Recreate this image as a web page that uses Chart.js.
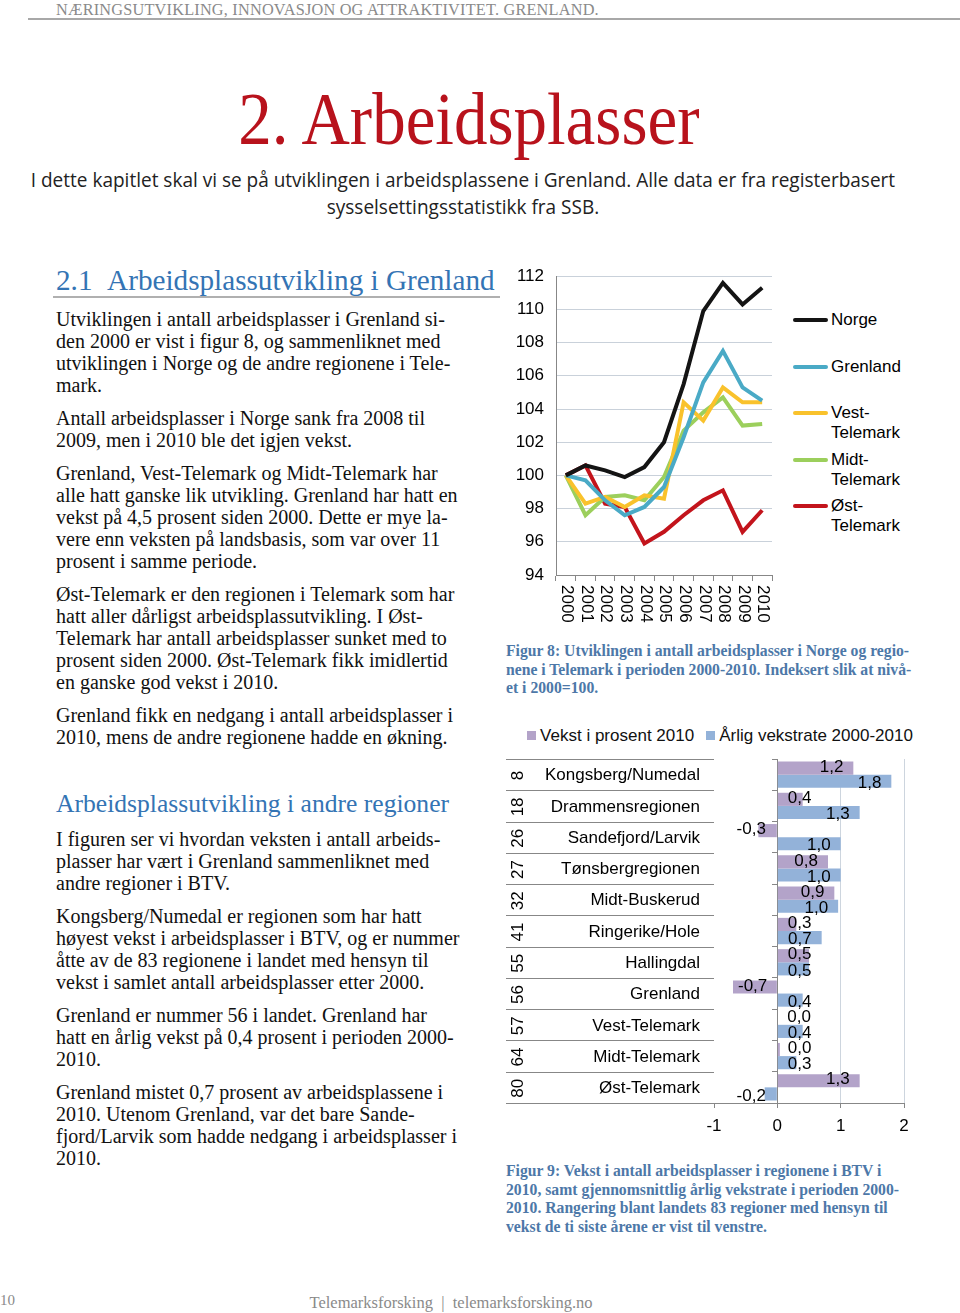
<!DOCTYPE html>
<html>
<head>
<meta charset="utf-8">
<script src="https://cdn.jsdelivr.net/npm/chart.js@4.4.1/dist/chart.umd.min.js"></script>
<style>
  body { margin: 0; width: 960px; height: 1313px; position: relative; overflow: hidden; background: #fff; font-family: "Liberation Serif", serif; color: #111; }
  .abs { position: absolute; white-space: nowrap; }
  .body-text { font-size: 20px; line-height: 22px; }
  .body-text p { margin: 0 0 11px 0; }
  .blue-head { color: #3474b4; }
  .caption { font-size: 15.7px; line-height: 18.7px; font-weight: bold; color: #4d78a8; }
  .sans { font-family: "Liberation Sans", Arial, sans-serif; }
  canvas { position: absolute; }
</style>
</head>
<body>

<div class="abs" style="left:56px; top:0px; font-size:16.3px; color:#8a8a8a; letter-spacing:0.2px;">NÆRINGSUTVIKLING, INNOVASJON OG ATTRAKTIVITET. GRENLAND.</div>
<div class="abs" style="left:28px; top:18px; width:932px; height:2px; background:#a8a8a8;"></div>

<div class="abs" style="left:0; top:77px; width:938px; text-align:center;">
  <span style="display:inline-block; font-size:74px; color:#b8121c; transform:scaleX(0.905);">2. Arbeidsplasser</span>
</div>

<div class="abs" style="left:0; top:166px; width:926px; text-align:center; font-family:'Open Sans', sans-serif; font-size:20px; line-height:27px; color:#222;">
  <span style="display:inline-block; transform:scaleX(0.95); transform-origin:center;">I dette kapitlet skal vi se på utviklingen i arbeidsplassene i Grenland. Alle data er fra registerbasert<br>sysselsettingsstatistikk fra SSB.</span>
</div>

<div class="abs blue-head" style="left:56px; top:264px; font-size:29.2px;">2.1&nbsp;&nbsp;Arbeidsplassutvikling i Grenland</div>
<div class="abs" style="left:53px; top:296px; width:447px; height:2px; background:#b0b0b0;"></div>

<div class="abs body-text" style="left:56px; top:308px;">
  <p>Utviklingen i antall arbeidsplasser i Grenland si-<br>den 2000 er vist i figur 8, og sammenliknet med<br>utviklingen i Norge og de andre regionene i Tele-<br>mark.</p>
  <p>Antall arbeidsplasser i Norge sank fra 2008 til<br>2009, men i 2010 ble det igjen vekst.</p>
  <p>Grenland, Vest-Telemark og Midt-Telemark har<br>alle hatt ganske lik utvikling. Grenland har hatt en<br>vekst på 4,5 prosent siden 2000. Dette er mye la-<br>vere enn veksten på landsbasis, som var over 11<br>prosent i samme periode.</p>
  <p>Øst-Telemark er den regionen i Telemark som har<br>hatt aller dårligst arbeidsplassutvikling. I Øst-<br>Telemark har antall arbeidsplasser sunket med to<br>prosent siden 2000. Øst-Telemark fikk imidlertid<br>en ganske god vekst i 2010.</p>
  <p>Grenland fikk en nedgang i antall arbeidsplasser i<br>2010, mens de andre regionene hadde en økning.</p>
</div>

<div class="abs blue-head" style="left:56px; top:789px; font-size:25.6px;">Arbeidsplassutvikling i andre regioner</div>

<div class="abs body-text" style="left:56px; top:828px;">
  <p>I figuren ser vi hvordan veksten i antall arbeids-<br>plasser har vært i Grenland sammenliknet med<br>andre regioner i BTV.</p>
  <p>Kongsberg/Numedal er regionen som har hatt<br>høyest vekst i arbeidsplasser i BTV, og er nummer<br>åtte av de 83 regionene i landet med hensyn til<br>vekst i samlet antall arbeidsplasser etter 2000.</p>
  <p>Grenland er nummer 56 i landet. Grenland har<br>hatt en årlig vekst på 0,4 prosent i perioden 2000-<br>2010.</p>
  <p>Grenland mistet 0,7 prosent av arbeidsplassene i<br>2010. Utenom Grenland, var det bare Sande-<br>fjord/Larvik som hadde nedgang i arbeidsplasser i<br>2010.</p>
</div>

<canvas id="lineChart" width="280" height="378" style="left:500px; top:254px;"></canvas>
<div id="lineLegend"></div>

<div class="abs caption" style="left:506px; top:642px;">Figur 8: Utviklingen i antall arbeidsplasser i Norge og regio-<br>nene i Telemark i perioden 2000-2010. Indeksert slik at nivå-<br>et i 2000=100.</div>

<div id="barLegend" class="abs sans" style="left:500px; top:726px; width:440px; text-align:center; font-size:17px; line-height:20px;"></div>
<canvas id="barChart" width="420" height="395" style="left:500px; top:750px;"></canvas>

<div class="abs caption" style="left:506px; top:1162px;">Figur 9: Vekst i antall arbeidsplasser i regionene i BTV i<br>2010, samt gjennomsnittlig årlig vekstrate i perioden 2000-<br>2010. Rangering blant landets 83 regioner med hensyn til<br>vekst de ti siste årene er vist til venstre.</div>

<div class="abs" style="left:0px; top:1292px; font-size:15px; color:#8a8a8a;">10</div>
<div class="abs" style="left:0; top:1293px; width:902px; text-align:center; font-size:16.5px; color:#8a8a8a;">Telemarksforsking&nbsp;&nbsp;|&nbsp;&nbsp;telemarksforsking.no</div>

<script>
// Figur 8: indeks, 2000 = 100
const years = ['2000', '2001', '2002', '2003', '2004', '2005', '2006', '2007', '2008', '2009', '2010'];
const norge        = [100, 100.6, 100.3, 99.9, 100.5, 102.0, 105.5, 109.9, 111.6, 110.3, 111.3];
const grenland     = [100, 99.7, 98.5, 97.6, 98.1, 99.3, 102.3, 105.6, 107.5, 105.3, 104.5];
const vestTelemark = [100, 98.3, 98.7, 98.1, 98.8, 98.6, 104.4, 103.3, 105.3, 104.4, 104.4];
const midtTelemark = [100, 97.6, 98.7, 98.8, 98.5, 99.9, 102.7, 103.8, 104.7, 103.0, 103.1];
const ostTelemark  = [100, 100.6, 98.3, 98.1, 95.9, 96.6, 97.6, 98.5, 99.1, 96.6, 97.9];
const lineNames  = ['Norge', 'Grenland', 'Vest-Telemark', 'Midt-Telemark', 'Øst-Telemark'];
const lineValues = [norge, grenland, vestTelemark, midtTelemark, ostTelemark];
const lineColors = ['#141414', '#4aaac6', '#f9c22c', '#9ccf5c', '#c3141c'];
const indexMin = 94, indexMax = 112, indexStep = 2;

// Figur 9: vekst i regionene i BTV
const regions = ['Kongsberg/Numedal', 'Drammensregionen', 'Sandefjord/Larvik', 'Tønsbergregionen', 'Midt-Buskerud',
  'Ringerike/Hole', 'Hallingdal', 'Grenland', 'Vest-Telemark', 'Midt-Telemark', 'Øst-Telemark'];
const ranks = ['8', '18', '26', '27', '32', '41', '55', '56', '57', '64', '80'];
const vekst2010   = [1.2, 0.4, -0.3, 0.8, 0.9, 0.3, 0.5, -0.7, 0.0, 0.04, 1.3];
const aarligVekst = [1.8, 1.3, 1.0, 1.0, 0.96, 0.7, 0.5, 0.4, 0.4, 0.3, -0.2];
const barNames  = ['Vekst i prosent 2010', 'Årlig vekstrate 2000-2010'];
const barColors = ['#b3a3c9', '#93b2d9'];
const growthMin = -1, growthMax = 2;

const SANS = '"Liberation Sans", Arial, sans-serif';
const gridGrey = '#c9d1da';
const axisGrey = '#878787';

// ---------- line chart ----------
const rotatedYears = {
  id: 'rotatedYears',
  afterDraw(chart) {
    const xs = chart.scales.x;
    const ctx = chart.ctx;
    ctx.save();
    ctx.font = '17px ' + SANS;
    ctx.fillStyle = '#000';
    ctx.textAlign = 'left';
    ctx.textBaseline = 'middle';
    years.forEach((y, i) => {
      ctx.save();
      ctx.translate(xs.getPixelForValue(i) + 1, xs.top + 10);
      ctx.rotate(Math.PI / 2);
      ctx.fillText(y, 0, 0);
      ctx.restore();
    });
    ctx.restore();
  }
};

new Chart(document.getElementById('lineChart'), {
  type: 'line',
  data: {
    labels: years,
    datasets: lineNames.map((name, i) => ({
      label: name,
      data: lineValues[i],
      borderColor: lineColors[i],
      backgroundColor: lineColors[i],
      borderWidth: 4,
      pointRadius: 0,
      tension: 0,
      fill: false
    }))
  },
  options: {
    responsive: false,
    animation: false,
    events: [],
    layout: { padding: { left: 4, right: 8, top: 13, bottom: 0 } },
    plugins: { legend: { display: false }, tooltip: { enabled: false } },
    scales: {
      x: {
        offset: true,
        grid: { drawOnChartArea: false, offset: true, color: axisGrey, tickLength: 6 },
        border: { color: axisGrey },
        ticks: { display: false },
        afterFit(s) { s.height = 57; }
      },
      y: {
        min: indexMin,
        max: indexMax,
        ticks: { stepSize: indexStep, font: { family: SANS, size: 17 }, color: '#000', padding: 12 },
        grid: { color: gridGrey, drawTicks: false },
        border: { color: axisGrey },
        afterFit(s) { s.width = 52; }
      }
    }
  },
  plugins: [rotatedYears]
});

// legend for line chart
const lineLegend = document.getElementById('lineLegend');
lineNames.forEach((name, i) => {
  const item = document.createElement('div');
  item.className = 'abs sans';
  item.style.cssText = `left:793px; top:${310 + i * 46.5}px; white-space:normal; width:140px;`;
  item.innerHTML = `<div style="position:absolute; left:0; top:8px; width:35px; height:4px; background:${lineColors[i]}; border-radius:2px;"></div>` +
    `<div style="position:absolute; left:38px; top:0; width:90px; font-size:17px; line-height:20px; color:#000;">${name}</div>`;
  lineLegend.appendChild(item);
});

// ---------- bar chart ----------
const barLegend = document.getElementById('barLegend');
barLegend.innerHTML = barNames.map((n, i) =>
  `<span style="display:inline-block; width:9px; height:9px; background:${barColors[i]}; margin-right:4px; vertical-align:1px;"></span>${n}`
).join('<span style="display:inline-block; width:12px;"></span>');

const fmt = v => v.toFixed(1).replace('.', ',');

const regionTable = {
  id: 'regionTable',
  afterDraw(chart) {
    const ys = chart.scales.y;
    const ca = chart.chartArea;
    const ctx = chart.ctx;
    const half = (ys.getPixelForValue(1) - ys.getPixelForValue(0)) / 2;
    ctx.save();
    ctx.strokeStyle = axisGrey;
    ctx.lineWidth = 1;
    for (let i = 0; i <= regions.length; i++) {
      const y = Math.round(ys.getPixelForValue(Math.min(i, regions.length - 1)) + (i < regions.length ? -half : half)) + 0.5;
      ctx.beginPath();
      ctx.moveTo(6, y);
      ctx.lineTo(ca.left, y);
      ctx.stroke();
    }
    ctx.font = '17px ' + SANS;
    ctx.fillStyle = '#000';
    ctx.textBaseline = 'middle';
    regions.forEach((r, i) => {
      const cy = ys.getPixelForValue(i) + 1;
      ctx.textAlign = 'right';
      ctx.fillText(r, ca.left - 14, cy);
      ctx.save();
      ctx.translate(18, cy);
      ctx.rotate(-Math.PI / 2);
      ctx.textAlign = 'center';
      ctx.fillText(ranks[i], 0, 0);
      ctx.restore();
    });
    ctx.restore();
  }
};

const barValueLabels = {
  id: 'barValueLabels',
  afterDatasetsDraw(chart) {
    const ctx = chart.ctx;
    ctx.save();
    ctx.font = '17px ' + SANS;
    ctx.fillStyle = '#000';
    ctx.textBaseline = 'middle';
    chart.data.datasets.forEach((ds, di) => {
      chart.getDatasetMeta(di).data.forEach((bar, i) => {
        const v = ds.data[i];
        const txt = fmt(v);
        const w = ctx.measureText(txt).width;
        const len = Math.abs(bar.x - bar.base);
        const y = bar.y + (di === 0 ? -1 : 2);
        if (v >= 0) {
          if (len > w + 14) { ctx.textAlign = 'right'; ctx.fillText(txt, bar.x - 10, y); }
          else { ctx.textAlign = 'left'; ctx.fillText(txt, bar.base + 10, y); }
        } else {
          if (len > w + 10) { ctx.textAlign = 'left'; ctx.fillText(txt, bar.x + 5, y); }
          else { ctx.textAlign = 'right'; ctx.fillText(txt, bar.base - 11, y); }
        }
      });
    });
    ctx.restore();
  }
};

new Chart(document.getElementById('barChart'), {
  type: 'bar',
  data: {
    labels: regions,
    datasets: [
      { label: barNames[0], data: vekst2010, backgroundColor: barColors[0] },
      { label: barNames[1], data: aarligVekst, backgroundColor: barColors[1] }
    ]
  },
  options: {
    indexAxis: 'y',
    responsive: false,
    animation: false,
    events: [],
    categoryPercentage: 0.84,
    barPercentage: 1.0,
    layout: { padding: { left: 214, right: 16, top: 9, bottom: 0 } },
    plugins: { legend: { display: false }, tooltip: { enabled: false } },
    scales: {
      x: {
        min: growthMin,
        max: growthMax,
        ticks: { stepSize: 1, font: { family: SANS, size: 17 }, color: '#000', padding: 8 },
        grid: {
          color: ctx => (ctx.tick && ctx.tick.value > 0) ? '#cdd5de' : 'rgba(0,0,0,0)',
          tickColor: axisGrey,
          tickLength: 5
        },
        border: { color: axisGrey },
        afterFit(s) { s.height = 42; }
      },
      y: {
        position: { x: 0 },
        offset: true,
        ticks: { display: false },
        grid: { drawOnChartArea: false, offset: true, color: axisGrey, tickLength: 5 },
        border: { color: axisGrey }
      }
    }
  },
  plugins: [regionTable, barValueLabels]
});
</script>
</body>
</html>
